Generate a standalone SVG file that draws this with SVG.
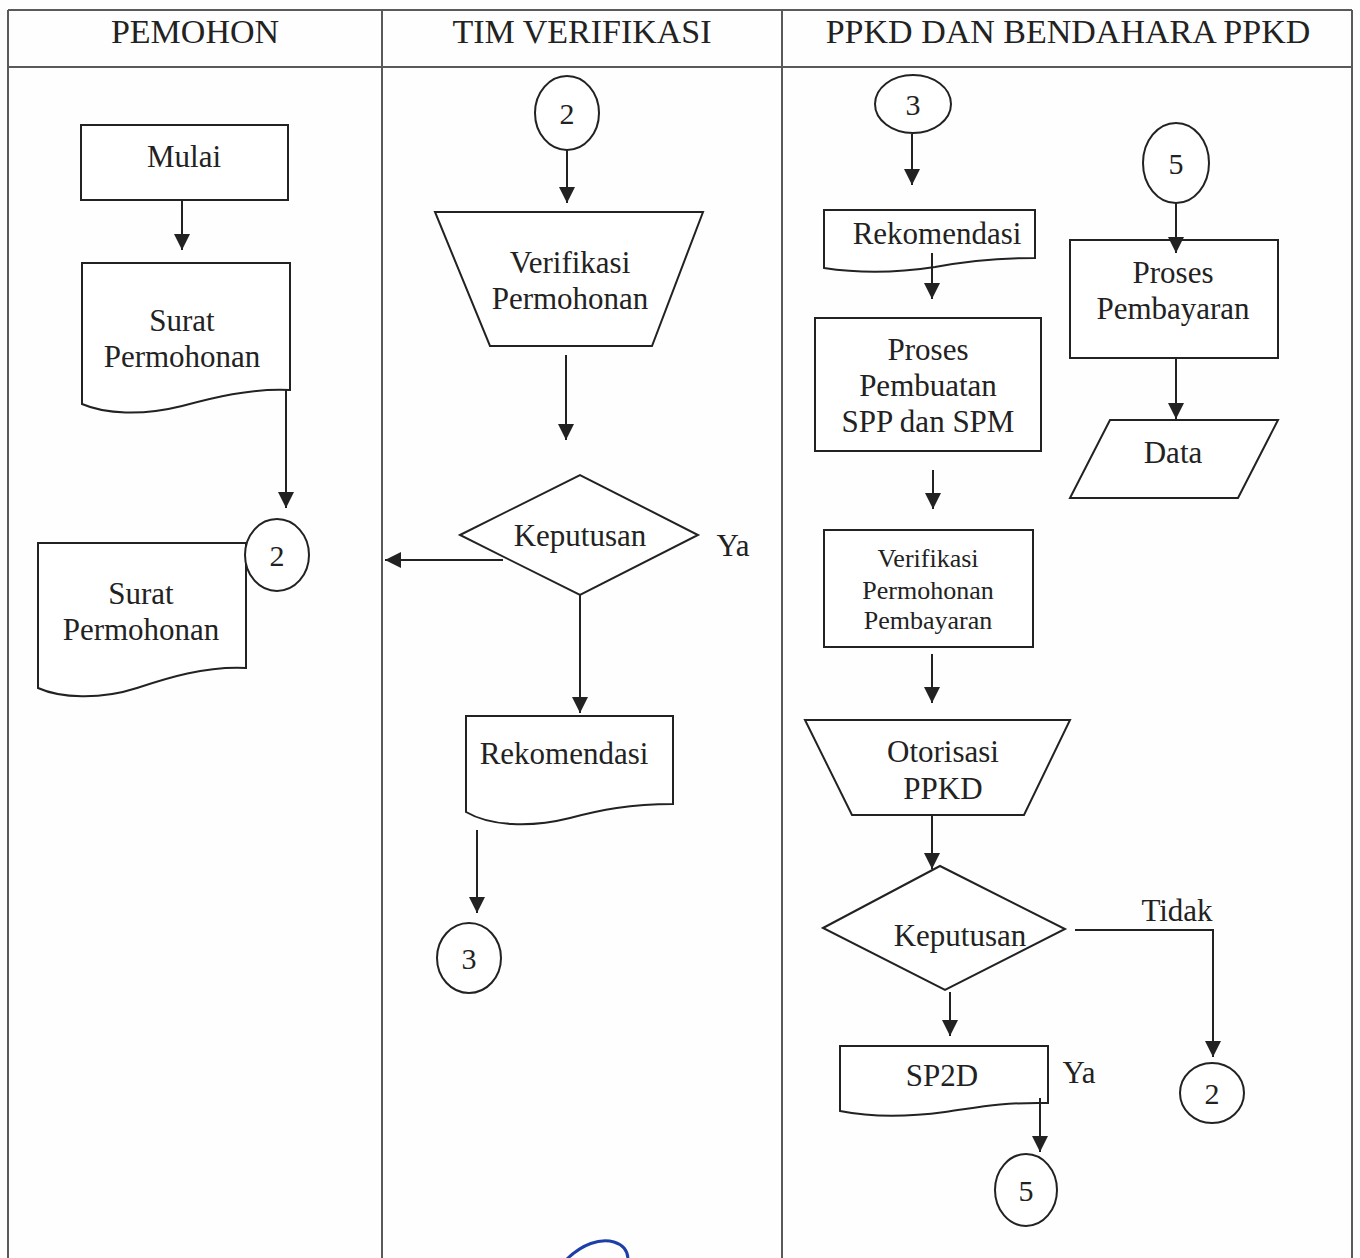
<svg xmlns="http://www.w3.org/2000/svg" width="1360" height="1258" viewBox="0 0 1360 1258">
<style>
.bg{fill:#fefefe}
.grid{stroke:#5a5a5a;stroke-width:2;fill:none}
.shape{fill:#ffffff;stroke:#222;stroke-width:2}
.conn{stroke:#222;stroke-width:2;fill:none}
text{font-family:"Liberation Serif","Times New Roman",serif;fill:#222;text-anchor:middle}
.hdr{font-size:34px}
.lbl{font-size:31px}
.sm{font-size:26px}
.num{font-size:30px}
</style>
<defs>
<marker id="ah" viewBox="0 0 16 16" refX="16" refY="8" markerWidth="16" markerHeight="16" markerUnits="userSpaceOnUse" orient="auto">
<path d="M0,0 L16,8 L0,16 Z" fill="#222"/>
</marker>
</defs>
<rect class="bg" x="0" y="0" width="1360" height="1258"/>
<g id="table">
<line class="grid" x1="8" y1="10" x2="1352" y2="10"/>
<line class="grid" x1="8" y1="67" x2="1352" y2="67"/>
<line class="grid" x1="8" y1="10" x2="8" y2="1258"/>
<line class="grid" x1="382" y1="10" x2="382" y2="1258"/>
<line class="grid" x1="782" y1="10" x2="782" y2="1258"/>
<line class="grid" x1="1352" y1="10" x2="1352" y2="1258"/>
<text class="hdr" x="195" y="43">PEMOHON</text>
<text class="hdr" x="582" y="43">TIM VERIFIKASI</text>
<text class="hdr" x="1068" y="43">PPKD DAN BENDAHARA PPKD</text>
</g>
<g id="mulai">
<rect class="shape" x="81" y="125" width="207" height="75"/>
<text class="lbl" x="184" y="167">Mulai</text>
</g>
<g id="surat1">
<path class="shape" d="M82,263 H290 V390 C250,388 212,398 182,406 C142,416 105,414 82,404 Z"/>
<text class="lbl" x="182" y="331">Surat</text>
<text class="lbl" x="182" y="367">Permohonan</text>
</g>
<g id="surat2">
<path class="shape" d="M38,543 H246 V668 C205,666 167,678 137,688 C100,700 60,698 38,688 Z"/>
<text class="lbl" x="141" y="604">Surat</text>
<text class="lbl" x="141" y="640">Permohonan</text>
</g>
<g id="c2a">
<ellipse class="shape" cx="277" cy="555" rx="32" ry="36"/>
<text class="num" x="277" y="566">2</text>
</g>
<g id="c2b">
<ellipse class="shape" cx="567" cy="113" rx="32" ry="37"/>
<text class="num" x="567" y="124">2</text>
</g>
<g id="verifikasi">
<path class="shape" d="M435,212 H703 L652,346 H490 Z"/>
<text class="lbl" x="570" y="273">Verifikasi</text>
<text class="lbl" x="570" y="309">Permohonan</text>
</g>
<g id="keputusan1">
<path class="shape" d="M460,535 L580,475 L698,535 L580,595 Z"/>
<text class="lbl" x="580" y="546">Keputusan</text>
<text class="lbl" x="733" y="556">Ya</text>
</g>
<g id="rekom1">
<path class="shape" d="M466,716 H673 V804 C630,804 600,810 570,818 C530,828 490,826 466,812 Z"/>
<text class="lbl" x="564" y="764">Rekomendasi</text>
</g>
<g id="c3a">
<ellipse class="shape" cx="469" cy="958" rx="32" ry="35"/>
<text class="num" x="469" y="969">3</text>
</g>
<g id="c3b">
<ellipse class="shape" cx="913" cy="104" rx="38" ry="29"/>
<text class="num" x="913" y="115">3</text>
</g>
<g id="rekom2">
<path class="shape" d="M824,210 H1035 V258 C990,258 962,262 935,267 C890,274 850,272 824,268 Z"/>
<text class="lbl" x="937" y="244">Rekomendasi</text>
</g>
<g id="pembuatan">
<rect class="shape" x="815" y="318" width="226" height="133"/>
<text class="lbl" x="928" y="360">Proses</text>
<text class="lbl" x="928" y="396">Pembuatan</text>
<text class="lbl" x="928" y="432">SPP dan SPM</text>
</g>
<g id="verifbayar">
<rect class="shape" x="824" y="530" width="209" height="117"/>
<text class="sm" x="928" y="567">Verifikasi</text>
<text class="sm" x="928" y="599">Permohonan</text>
<text class="sm" x="928" y="629">Pembayaran</text>
</g>
<g id="otorisasi">
<path class="shape" d="M805,720 H1070 L1024,815 H852 Z"/>
<text class="lbl" x="943" y="762">Otorisasi</text>
<text class="lbl" x="943" y="799">PPKD</text>
</g>
<g id="keputusan2">
<path class="shape" d="M823,928 L940,866 L1065,929 L945,990 Z"/>
<text class="lbl" x="960" y="946">Keputusan</text>
<text class="lbl" x="1177" y="921">Tidak</text>
</g>
<g id="sp2d">
<path class="shape" d="M840,1046 H1048 V1103 C1000,1102 975,1108 945,1112 C900,1118 865,1116 840,1111 Z"/>
<text class="lbl" x="942" y="1086">SP2D</text>
<text class="lbl" x="1079" y="1083">Ya</text>
</g>
<g id="c2c">
<ellipse class="shape" cx="1212" cy="1093" rx="32" ry="30"/>
<text class="num" x="1212" y="1104">2</text>
</g>
<g id="c5a">
<ellipse class="shape" cx="1026" cy="1190" rx="31" ry="36"/>
<text class="num" x="1026" y="1201">5</text>
</g>
<g id="c5b">
<ellipse class="shape" cx="1176" cy="163" rx="33" ry="40"/>
<text class="num" x="1176" y="174">5</text>
</g>
<g id="pembayaran">
<rect class="shape" x="1070" y="240" width="208" height="118"/>
<text class="lbl" x="1173" y="283">Proses</text>
<text class="lbl" x="1173" y="319">Pembayaran</text>
</g>
<g id="data">
<path class="shape" d="M1110,420 H1278 L1238,498 H1070 Z"/>
<text class="lbl" x="1173" y="463">Data</text>
</g>
<g id="connectors">
<line class="conn" x1="182" y1="200" x2="182" y2="250" marker-end="url(#ah)"/>
<line class="conn" x1="286" y1="390" x2="286" y2="508" marker-end="url(#ah)"/>
<line class="conn" x1="567" y1="150" x2="567" y2="203" marker-end="url(#ah)"/>
<line class="conn" x1="566" y1="355" x2="566" y2="440" marker-end="url(#ah)"/>
<line class="conn" x1="503" y1="560" x2="385" y2="560" marker-end="url(#ah)"/>
<line class="conn" x1="580" y1="595" x2="580" y2="713" marker-end="url(#ah)"/>
<line class="conn" x1="477" y1="830" x2="477" y2="913" marker-end="url(#ah)"/>
<line class="conn" x1="912" y1="134" x2="912" y2="185" marker-end="url(#ah)"/>
<line class="conn" x1="932" y1="253" x2="932" y2="299" marker-end="url(#ah)"/>
<line class="conn" x1="933" y1="470" x2="933" y2="509" marker-end="url(#ah)"/>
<line class="conn" x1="932" y1="654" x2="932" y2="703" marker-end="url(#ah)"/>
<line class="conn" x1="932" y1="815" x2="932" y2="869" marker-end="url(#ah)"/>
<path class="conn" d="M1075,930 H1213 V1057" marker-end="url(#ah)"/>
<line class="conn" x1="950" y1="992" x2="950" y2="1036" marker-end="url(#ah)"/>
<line class="conn" x1="1040" y1="1098" x2="1040" y2="1152" marker-end="url(#ah)"/>
<line class="conn" x1="1176" y1="203" x2="1176" y2="253" marker-end="url(#ah)"/>
<line class="conn" x1="1176" y1="358" x2="1176" y2="419" marker-end="url(#ah)"/>
</g>
<path d="M566,1260 C582,1244 600,1238 614,1242 C624,1245 628,1252 628,1260" fill="none" stroke="#1d40a8" stroke-width="3"/>
</svg>
